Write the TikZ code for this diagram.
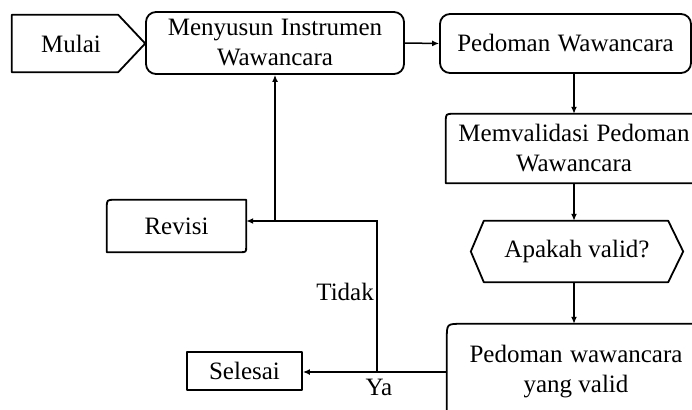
\documentclass[tikz,border=0pt]{standalone}
\usepackage{fontspec}
\setmainfont{Liberation Serif}
\usetikzlibrary{calc,arrows.meta}
\begin{document}
\begin{tikzpicture}[x=1pt,y=-1pt,
  font=\fontsize{25}{30}\selectfont,
  lbl/.style={inner sep=0pt, align=center},
  outline/.style={line width=1.8pt, line join=round},
  edge/.style={line width=1.5pt},
  arr/.style={edge, -{Latex[length=7pt,width=6pt]}}]
\useasboundingbox (0,0) rectangle (692,409);
\fill[white] (0,0) rectangle (692,409);
\clip (0,0) rectangle (692,409);
% Mulai
\node[inner sep=0pt, minimum width=133pt, minimum height=57pt] (mulai) at (78.5,43.5) {Mulai\hspace*{15pt}};
\draw[outline] (mulai.north west) -- ($(mulai.north east)+(-27,0)$) -- (mulai.east) -- ($(mulai.south east)+(-27,0)$) -- (mulai.south west) -- cycle;
% Menyusun
\node[lbl, draw, outline, rounded corners=10pt, minimum width=258pt, minimum height=62pt] (menyusun) at (275,43) {Menyusun\hspace{0.3em}Instrumen\\Wawancara};
% Pedoman Wawancara
\node[lbl, draw, outline, rounded corners=10pt, minimum width=251pt, minimum height=59pt] (pw) at (565.5,43.5) {Pedoman\hspace{0.3em}Wawancara};
% Memvalidasi
\node[lbl, minimum width=256pt, minimum height=69pt] (mv) at (574,148.5) {Memvalidasi\hspace{0.3em}Pedoman\\Wawancara};
\draw[outline] ($(mv.north east)+(10,0)$) -- ($(mv.north west)+(8,0)$) .. controls (mv.north west) .. ($(mv.north west)+(0,8)$) -- (mv.south west) -- ($(mv.south east)+(10,0)$);
% Apakah valid
\node[lbl, minimum width=212pt, minimum height=61pt] (av) at (577,251.5) {Apakah valid?};
\draw[outline] (av.west) -- ($(av.north west)+(13,0)$) -- ($(av.north east)+(-15,0)$) -- (av.east) -- ($(av.south east)+(-15,0)$) -- ($(av.south west)+(13,0)$) -- cycle;
% Pedoman valid
\node[lbl, minimum width=258pt, minimum height=96pt] (pv) at (576,372) {Pedoman\hspace{0.3em}wawancara\\yang valid};
\draw[outline] ($(pv.north east)+(5,0)$) -- ($(pv.north west)+(15,0)$) .. controls (pv.north west) .. ($(pv.north west)+(0,15)$) -- ($(pv.south west)+(0,-15)$) .. controls (pv.south west) .. ($(pv.south west)+(15,0)$) -- ($(pv.south east)+(5,0)$);
% Selesai
\node[lbl, draw, outline, minimum width=115pt, minimum height=38pt] (sel) at (244.5,371) {Selesai};
% Revisi
\node[lbl, minimum width=139pt, minimum height=52pt] (rev) at (176.5,226) {Revisi};
\draw[outline] (rev.north) -- (rev.north east) -- ($(rev.south east)+(0,-6)$) .. controls (rev.south east) .. ($(rev.south east)+(-6,0)$) -- (rev.south west) -- ($(rev.north west)+(0,8)$) .. controls (rev.north west) .. ($(rev.north west)+(8,0)$) -- cycle;
% connectors
\draw[arr] (menyusun.east) -- (pw.west);
\draw[arr] (mv.north |- pw.south) -- (mv.north);
\draw[arr] (mv.south) -- (mv.south |- av.north);
\draw[arr] (mv.south |- av.south) -- (mv.south |- pv.north);
\draw[arr] (pv.west) -- (pv.west -| sel.east);
\coordinate (split) at (377,372);
\coordinate (j) at (275,221);
\draw[edge] (split) |- (j);
\draw[arr] (j) -- (j -| rev.east);
\draw[arr] (j) -- (j |- menyusun.south);
% labels
\node[inner sep=0pt, anchor=east] (tidak) at (374,292) {Tidak};
\node[inner sep=0pt] (ya) at (379,387) {Ya};
\end{tikzpicture}
\end{document}
